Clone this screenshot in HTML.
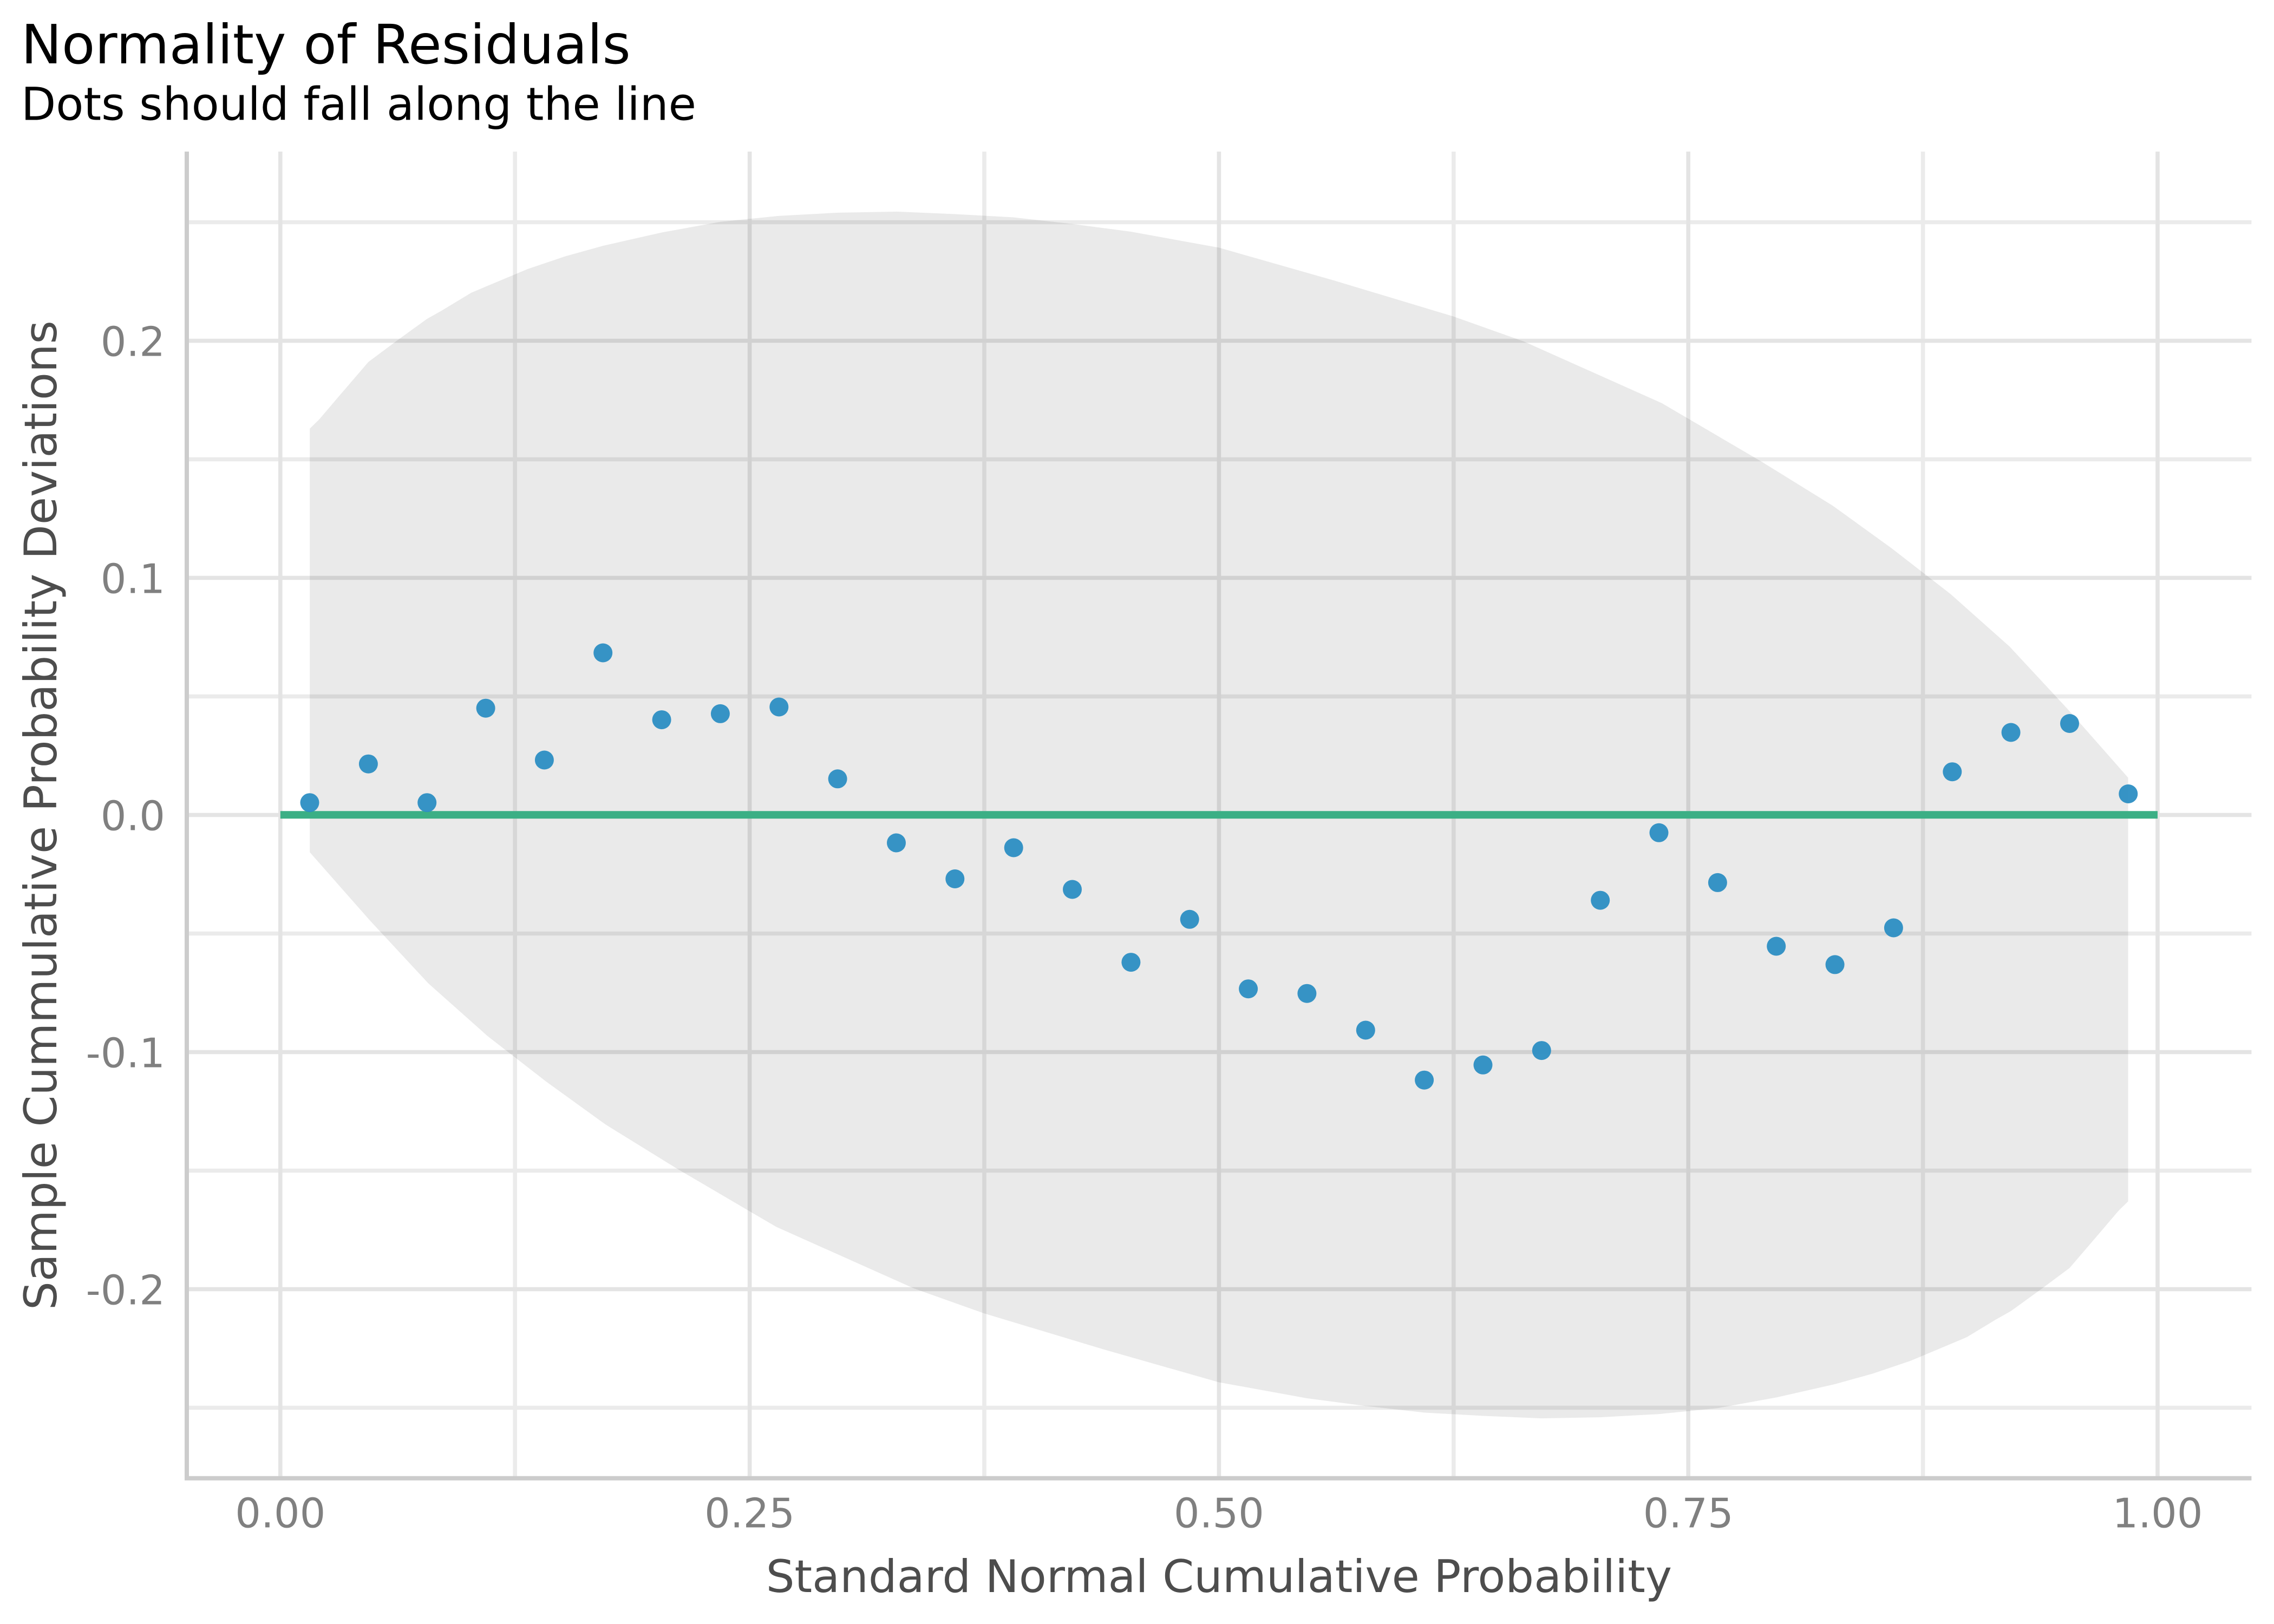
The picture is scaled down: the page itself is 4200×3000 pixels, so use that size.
<!DOCTYPE html>
<html>
<head>
<meta charset="utf-8">
<style>
  html, body { margin: 0; padding: 0; background: #ffffff; }
  svg { display: block; }
  text { font-family: "DejaVu Sans", "Liberation Sans", sans-serif; }
</style>
</head>
<body>
<svg width="4200" height="3000" viewBox="0 0 4200 3000" xmlns="http://www.w3.org/2000/svg">
  <rect x="0" y="0" width="4200" height="3000" fill="#ffffff"/>

  <!-- Title / subtitle -->
  <text x="39" y="117" font-size="100.3" fill="#000000">Normality of Residuals</text>
  <text x="39" y="221.5" font-size="83.5" fill="#000000">Dots should fall along the line</text>

  <!-- minor gridlines -->
  <g stroke="#ebebeb" stroke-width="7.6" fill="none">
    <line x1="345" y1="410.5" x2="4158.4" y2="410.5"/>
    <line x1="345" y1="848.5" x2="4158.4" y2="848.5"/>
    <line x1="345" y1="1286.5" x2="4158.4" y2="1286.5"/>
    <line x1="345" y1="1724.5" x2="4158.4" y2="1724.5"/>
    <line x1="345" y1="2162.5" x2="4158.4" y2="2162.5"/>
    <line x1="345" y1="2600.5" x2="4158.4" y2="2600.5"/>
    <line x1="951.2" y1="280" x2="951.2" y2="2731"/>
    <line x1="1818" y1="280" x2="1818" y2="2731"/>
    <line x1="2684.8" y1="280" x2="2684.8" y2="2731"/>
    <line x1="3551.6" y1="280" x2="3551.6" y2="2731"/>
  </g>
  <!-- major gridlines -->
  <g stroke="#e4e4e4" stroke-width="7.6" fill="none">
    <line x1="345" y1="629.5" x2="4158.4" y2="629.5"/>
    <line x1="345" y1="1067.5" x2="4158.4" y2="1067.5"/>
    <line x1="345" y1="1505.5" x2="4158.4" y2="1505.5"/>
    <line x1="345" y1="1943.5" x2="4158.4" y2="1943.5"/>
    <line x1="345" y1="2381.5" x2="4158.4" y2="2381.5"/>
    <line x1="517.8" y1="280" x2="517.8" y2="2731"/>
    <line x1="1384.6" y1="280" x2="1384.6" y2="2731"/>
    <line x1="2251.4" y1="280" x2="2251.4" y2="2731"/>
    <line x1="3118.2" y1="280" x2="3118.2" y2="2731"/>
    <line x1="3985" y1="280" x2="3985" y2="2731"/>
  </g>

  <!-- confidence band -->
  <polygon fill="#000000" fill-opacity="0.082" points="
    572.2,791.8 589.8,774.5 624.5,733.7 680.5,668.5 732.7,629.6 788.8,589 816.3,573.5 870.4,540.8
    897,529.5 974.5,497 1005.5,486.5 1043.9,473.5 1114,454 1222,429.5 1330.6,409.7 1439,398.8
    1547,392.9 1656,390.9 1764,395.5 1872,401.5 1981,413.8 2089,428 2251.5,457.5 2463.5,518
    2685,584.7 2815,631 3069.3,744.7 3251,851.3 3384.4,933.7 3493.4,1012.5 3602.5,1097.3
    3711.5,1194.2 3820.6,1311.7 3930.6,1436.6
    3930.6,2219.2 3913,2236.5 3878.3,2277.3 3822.3,2342.5 3770.1,2381.4 3714,2422 3686.5,2437.5
    3632.4,2470.2 3605.8,2481.5 3528.3,2514 3497.3,2524.5 3458.9,2537.5 3388.8,2557 3280.8,2581.5
    3172.2,2601.3 3063.8,2612.2 2955.8,2618.1 2846.8,2620.1 2738.8,2615.5 2630.8,2609.5 2521.8,2597.2
    2413.8,2583 2251.3,2553.5 2039.3,2493 1817.8,2426.3 1687.8,2380 1433.5,2266.3 1251.8,2159.7
    1118.4,2077.3 1009.4,1998.5 900.3,1913.7 791.3,1816.8 682.2,1699.3 572.2,1574.4"/>

  <!-- axis lines -->
  <line x1="345" y1="280" x2="345" y2="2734.5" stroke="#cccccc" stroke-width="8"/>
  <line x1="341" y1="2730.7" x2="4158.4" y2="2730.7" stroke="#cccccc" stroke-width="8"/>

  <!-- reference line -->
  <line x1="517.8" y1="1505.3" x2="3985" y2="1505.3" stroke="#3baf85" stroke-width="14"/>

  <!-- points -->
  <g fill="#2c8ec3" fill-opacity="0.95">
    <circle cx="572.0" cy="1482.7" r="17.5"/>
    <circle cx="680.4" cy="1411.2" r="17.5"/>
    <circle cx="788.7" cy="1482.7" r="17.5"/>
    <circle cx="897.1" cy="1308.2" r="17.5"/>
    <circle cx="1005.4" cy="1404.0" r="17.5"/>
    <circle cx="1113.7" cy="1206.0" r="17.5"/>
    <circle cx="1222.1" cy="1329.6" r="17.5"/>
    <circle cx="1330.4" cy="1318.4" r="17.5"/>
    <circle cx="1438.8" cy="1306.0" r="17.5"/>
    <circle cx="1547.1" cy="1438.8" r="17.5"/>
    <circle cx="1655.5" cy="1557.0" r="17.5"/>
    <circle cx="1763.8" cy="1623.5" r="17.5"/>
    <circle cx="1872.2" cy="1566.0" r="17.5"/>
    <circle cx="1980.5" cy="1643.0" r="17.5"/>
    <circle cx="2088.9" cy="1777.6" r="17.5"/>
    <circle cx="2197.2" cy="1698.3" r="17.5"/>
    <circle cx="2305.6" cy="1826.7" r="17.5"/>
    <circle cx="2413.9" cy="1835.2" r="17.5"/>
    <circle cx="2522.3" cy="1903.0" r="17.5"/>
    <circle cx="2630.6" cy="1995.2" r="17.5"/>
    <circle cx="2739.0" cy="1967.3" r="17.5"/>
    <circle cx="2847.3" cy="1940.6" r="17.5"/>
    <circle cx="2955.7" cy="1663.1" r="17.5"/>
    <circle cx="3064.0" cy="1538.3" r="17.5"/>
    <circle cx="3172.4" cy="1630.4" r="17.5"/>
    <circle cx="3280.7" cy="1748.0" r="17.5"/>
    <circle cx="3389.1" cy="1781.9" r="17.5"/>
    <circle cx="3497.4" cy="1714.0" r="17.5"/>
    <circle cx="3605.8" cy="1425.7" r="17.5"/>
    <circle cx="3714.1" cy="1353.0" r="17.5"/>
    <circle cx="3822.5" cy="1336.5" r="17.5"/>
    <circle cx="3930.8" cy="1466.5" r="17.5"/>
  </g>

  <!-- y tick labels -->
  <g font-size="75" fill="#808080" text-anchor="end">
    <text x="305" y="657.5">0.2</text>
    <text x="305" y="1095.5">0.1</text>
    <text x="305" y="1533.5">0.0</text>
    <text x="305" y="1971.5">-0.1</text>
    <text x="305" y="2409.5">-0.2</text>
  </g>

  <!-- x tick labels -->
  <g font-size="75" fill="#808080" text-anchor="middle">
    <text x="517.8" y="2821.5">0.00</text>
    <text x="1384.6" y="2821.5">0.25</text>
    <text x="2251.4" y="2821.5">0.50</text>
    <text x="3118.2" y="2821.5">0.75</text>
    <text x="3985" y="2821.5">1.00</text>
  </g>

  <!-- axis titles -->
  <text x="2251.4" y="2941" font-size="83.2" fill="#4d4d4d" text-anchor="middle">Standard Normal Cumulative Probability</text>
  <text transform="translate(104,1506) rotate(-90)" font-size="83.2" fill="#4d4d4d" text-anchor="middle">Sample Cummulative Probability Deviations</text>
</svg>
</body>
</html>
